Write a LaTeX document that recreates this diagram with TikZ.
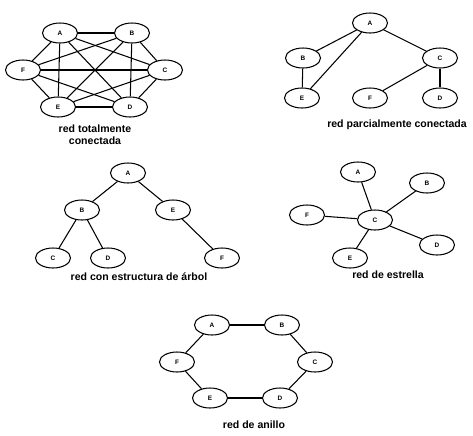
\documentclass[tikz,border=0pt]{standalone}
\usepackage{fontspec}
\setmainfont{Liberation Sans}
\usepackage{xcolor}
\usepackage{tikz}
\usetikzlibrary{shapes.geometric}

\tikzset{
  estacion/.style={ellipse, draw, line width=0.9pt, minimum width=1.05cm, minimum height=0.6cm, inner sep=0pt, font=\bfseries\fontsize{5.5}{6}\selectfont},
  titulo/.style={align=center, font=\bfseries\fontsize{9}{10.5}\selectfont},
  enlace/.style={line width=0.9pt}
}

\begin{document}
\begin{tikzpicture}[x=0.03cm, y=-0.03cm]
\useasboundingbox (0,0) rectangle (473,435);
% red totalmente conectada
\node at (60,33) [estacion] (tA) {A};
\node at (132,33) [estacion] (tB) {B};
\node at (165,70) [estacion] (tC) {C};
\node at (130,107) [estacion] (tD) {D};
\node at (58,107) [estacion] (tE) {E};
\node at (23,70) [estacion] (tF) {F};
\node at (95,135) [titulo] (ttotal) {red totalmente\\conectada};
\draw[enlace] (tA) -- (tB);
\draw[enlace] (tA) -- (tC);
\draw[enlace] (tA) -- (tD);
\draw[enlace] (tA) -- (tE);
\draw[enlace] (tA) -- (tF);
\draw[enlace] (tB) -- (tC);
\draw[enlace] (tB) -- (tD);
\draw[enlace] (tB) -- (tE);
\draw[enlace] (tB) -- (tF);
\draw[enlace] (tC) -- (tD);
\draw[enlace] (tC) -- (tE);
\draw[enlace] (tC) -- (tF);
\draw[enlace] (tD) -- (tE);
\draw[enlace] (tD) -- (tF);
\draw[enlace] (tE) -- (tF);
% red parcialmente conectada
\node at (370,23) [estacion] (pA) {A};
\node at (303,58) [estacion] (pB) {B};
\node at (440,58) [estacion] (pC) {C};
\node at (302,98) [estacion] (pE) {E};
\node at (370,98) [estacion] (pF) {F};
\node at (440,98) [estacion] (pD) {D};
\node at (397,125) [titulo] (tparcial) {red parcialmente conectada};
\draw[enlace] (pA) -- (pB);
\draw[enlace] (pA) -- (pE);
\draw[enlace] (pA) -- (pC);
\draw[enlace] (pB) -- (pE);
\draw[enlace] (pC) -- (pF);
\draw[enlace] (pC) -- (pD);
% red con estructura de arbol
\node at (128,173) [estacion] (aA) {A};
\node at (82,210) [estacion] (aB) {B};
\node at (173,210) [estacion] (aE) {E};
\node at (53,258) [estacion] (aC) {C};
\node at (108,258) [estacion] (aD) {D};
\node at (222,258) [estacion] (aF) {F};
\node at (139,277) [titulo] (tarbol) {red con estructura de árbol};
\draw[enlace] (aA) -- (aB);
\draw[enlace] (aA) -- (aE);
\draw[enlace] (aB) -- (aC);
\draw[enlace] (aB) -- (aD);
\draw[enlace] (aE) -- (aF);
% red de estrella
\node at (375,220) [estacion] (eC) {C};
\node at (358,172) [estacion] (eA) {A};
\node at (427,183) [estacion] (eB) {B};
\node at (307,215) [estacion] (eF) {F};
\node at (437,245) [estacion] (eD) {D};
\node at (350,258) [estacion] (eE) {E};
\node at (388,275) [titulo] (testrella) {red de estrella};
\draw[enlace] (eC) -- (eA);
\draw[enlace] (eC) -- (eB);
\draw[enlace] (eC) -- (eF);
\draw[enlace] (eC) -- (eD);
\draw[enlace] (eC) -- (eE);
% red de anillo
\node at (212,325) [estacion] (rA) {A};
\node at (282,325) [estacion] (rB) {B};
\node at (315,362) [estacion] (rC) {C};
\node at (280,398) [estacion] (rD) {D};
\node at (210,398) [estacion] (rE) {E};
\node at (177,362) [estacion] (rF) {F};
\node at (254,425) [titulo] (tanillo) {red de anillo};
\draw[enlace] (rA) -- (rB);
\draw[enlace] (rB) -- (rC);
\draw[enlace] (rC) -- (rD);
\draw[enlace] (rD) -- (rE);
\draw[enlace] (rE) -- (rF);
\draw[enlace] (rF) -- (rA);
\end{tikzpicture}
\end{document}
